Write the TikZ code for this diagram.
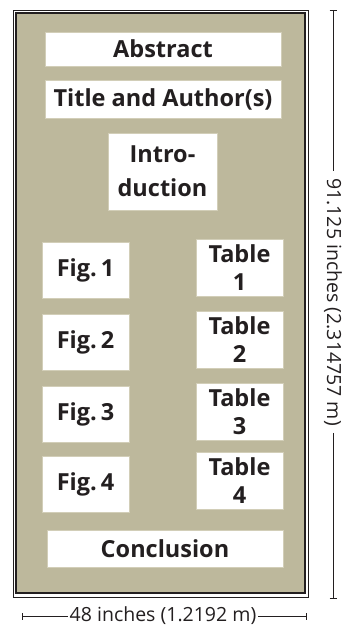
\documentclass[tikz,border=0pt]{standalone}
\usepackage{fontspec}
\setmainfont{Open Sans}
\begin{document}
\begin{tikzpicture}[x=1pt,y=-1pt,
  box/.style={draw=boxedge,line width=0.8pt,fill=white,inner sep=0pt,align=center,
    font=\fontsize{23.5}{28}\selectfont\bfseries,text=ink},
  wide/.style={box,minimum width=236pt},
  small/.style={box,minimum width=87pt,minimum height=56pt},
  dimtext/.style={font=\fontsize{19.5}{22}\selectfont,text=ink,inner sep=2pt},
  dimline/.style={draw=ink,line width=0.7pt}]
\definecolor{tan}{HTML}{BDB89C}
\definecolor{boxedge}{HTML}{D2CEB8}
\definecolor{ink}{HTML}{231F20}
\useasboundingbox (0,0) rectangle (343,627);
\fill[white] (0,0) rectangle (343,627);
% frame
\draw[ink,line width=0.7pt] (13,10) rectangle (308,597);
\draw[ink,line width=1.4pt,fill=tan] (16,13) rectangle (305,593);
% boxes
\node[wide,minimum height=34pt] (abs) at (163,49) {Abstract};
\node[wide,minimum height=38pt] (tit) at (163,99) {Title and Author(s)};
\node[box,minimum width=109pt,minimum height=77pt,font=\fontsize{23.5}{34}\selectfont\bfseries] (intro) at (162.5,171.5) {Intro-\\duction};
\node[small] (f1) at (85.5,270) {Fig.\,1};
\node[small,minimum height=57pt] (t1) at (239.5,267.5) {Table\\1};
\node[small] (f2) at (85.5,342) {Fig.\,2};
\node[small,minimum height=57pt] (t2) at (239.5,339.5) {Table\\2};
\node[small] (f3) at (85.5,414) {Fig.\,3};
\node[small,minimum height=57pt] (t3) at (239.5,411.5) {Table\\3};
\node[small] (f4) at (85.5,484) {Fig.\,4};
\node[small,minimum height=57pt] (t4) at (239.5,481) {Table\\4};
\node[wide,minimum height=37pt] (conc) at (165,548.5) {Conclusion};
% width dimension
\coordinate (wl) at (22,616);
\coordinate (wr) at (306,616);
\node[dimtext] (wt) at (163,616) {48 inches (1.2192 m)};
\draw[dimline] (wl) -- (wt.west);
\draw[dimline] (wt.east) -- (wr);
\draw[dimline] ([yshift=-3.5pt]wl) -- ([yshift=3.5pt]wl);
\draw[dimline] ([yshift=-3.5pt]wr) -- ([yshift=3.5pt]wr);
% height dimension
\coordinate (ht) at (333,10);
\coordinate (hb) at (333,598);
\node[dimtext,rotate=-90,inner xsep=7pt] (htx) at (333,302) {91.125 inches (2.314757 m)};
\draw[dimline] (ht) -- (htx.west);
\draw[dimline] (htx.east) -- (hb);
\draw[dimline] ([xshift=-3.5pt]ht) -- ([xshift=3.5pt]ht);
\draw[dimline] ([xshift=-3.5pt]hb) -- ([xshift=3.5pt]hb);
\end{tikzpicture}
\end{document}
